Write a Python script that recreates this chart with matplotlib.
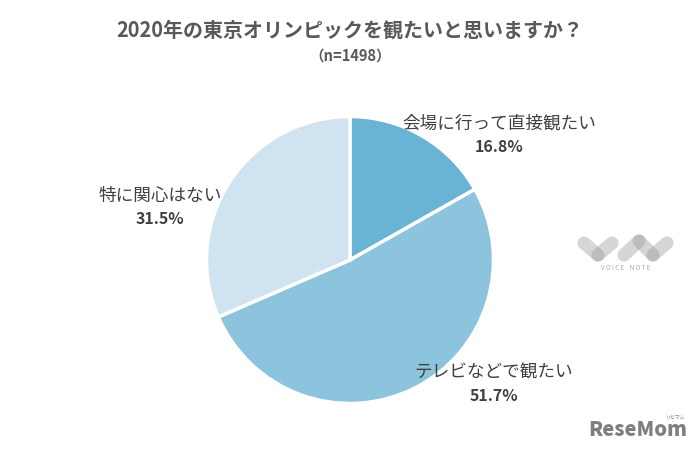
import matplotlib
matplotlib.use('Agg')
import matplotlib.pyplot as plt

plt.rcParams['font.family'] = ['Noto Sans CJK JP', 'DejaVu Sans']

title = '2020年の東京オリンピックを観たいと思いますか？'
subtitle = '（n=1498）'
labels = ['会場に行って直接観たい', 'テレビなどで観たい', '特に関心はない']
values = [16.8, 51.7, 31.5]
colors = ['#69b3d4', '#8cc4de', '#cfe4f0']

fig = plt.figure(figsize=(7, 4.5), dpi=100)

# pie goes clockwise from the top
ax2 = fig.add_axes([206.5/700, 1 - 403.5/450, 287/700, 287/450])
ax2.pie(values, colors=colors, startangle=90, counterclock=False, radius=1.0,
        wedgeprops={'edgecolor': 'white', 'linewidth': 2.5})
ax2.set_xlim(-1, 1)
ax2.set_ylim(-1, 1)

# overlay in pixel coords for the texts and logos
ax = fig.add_axes([0, 0, 1, 1])
ax.set_xlim(0, 700)
ax.set_ylim(450, 0)
ax.axis('off')

ax.text(350, 30, title, ha='center', va='center', fontsize=14.4, fontweight='bold', color='#595959')
ax.text(350, 56, subtitle, ha='center', va='center', fontsize=10.5, fontweight='bold', color='#595959')

label_pos = [(499, 124), (494, 373), (160, 196)]
for lab, val, (x, y) in zip(labels, values, label_pos):
    ax.text(x, y, lab, ha='center', va='center', fontsize=12.7, color='#404040')
    ax.text(x, y + 23, f'{val}%', ha='center', va='center', fontsize=11.5, fontweight='bold', color='#404040')

# voice note logo
pills = [((584, 243), (598, 255)), ((612, 243), (598, 255)), ((624, 255), (639, 241)),
         ((639, 241), (653, 255)), ((667, 243), (653, 255))]
for a, b in pills:
    ax.plot([a[0], b[0]], [a[1], b[1]], color='#8c8c8c', alpha=0.35, lw=9.5, solid_capstyle='round')
ax.text(626, 268, 'V O I C E    N O T E', ha='center', va='center', fontsize=4.5, color='#aaaaaa')

# resemom logo
ax.text(638, 430, 'ReseMom', ha='center', va='center', fontsize=14.5, fontweight='black', color='#7f7f7f')
ax.text(676, 417, 'リセマム', ha='center', va='center', fontsize=3.5, color='#7f7f7f')

fig.savefig('out.png', dpi=100)
